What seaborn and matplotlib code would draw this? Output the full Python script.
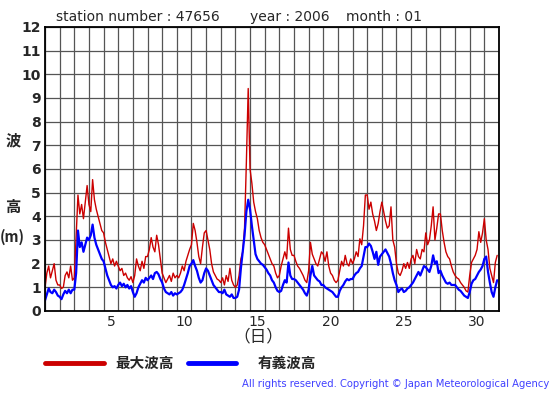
import numpy as np
import pandas as pd
import seaborn as sns
import matplotlib
matplotlib.use("Agg")
import matplotlib.pyplot as plt
from matplotlib.lines import Line2D

# 3-hourly readings (00,03,...,21h) for each day of January 2006
max_wave = [
    1.0, 1.6, 1.9, 1.4, 1.7, 2.0, 1.3, 1.1,
    1.1, 0.95, 1.0, 1.5, 1.65, 1.4, 1.9, 1.3,
    1.4, 3.2, 4.9, 4.1, 4.5, 3.9, 4.6, 5.3,
    4.5, 4.2, 5.55, 4.7, 4.3, 4.0, 3.7, 3.4,
    3.3, 2.9, 2.6, 2.3, 2.0, 2.2, 1.9, 2.1,
    1.9, 1.7, 1.8, 1.5, 1.6, 1.4, 1.3, 1.45,
    1.2, 1.5, 2.2, 1.9, 1.7, 2.1, 1.8, 2.3,
    2.3, 2.6, 3.1, 2.7, 2.5, 3.2, 2.8, 2.2,
    1.6, 1.4, 1.2, 1.35, 1.5, 1.25, 1.6, 1.4,
    1.5, 1.4, 1.6, 1.9, 1.7, 2.1, 2.35, 2.6,
    2.8, 3.7, 3.4, 2.9, 2.3, 2.0, 2.7, 3.3,
    3.4, 3.0, 2.6, 2.0, 1.65, 1.5, 1.35, 1.3,
    1.2, 1.4, 1.1, 1.5, 1.25, 1.8, 1.3, 1.1,
    1.0, 1.1, 1.5, 2.2, 2.5, 3.5, 6.3, 9.4,
    6.0, 5.4, 4.6, 4.2, 3.9, 3.4, 3.1, 2.9,
    2.8, 2.6, 2.4, 2.2, 2.0, 1.9, 1.6, 1.4,
    1.5, 1.9, 2.2, 2.5, 2.2, 3.5, 2.6, 2.35,
    2.35, 2.1, 1.9, 1.8, 1.65, 1.5, 1.3, 1.2,
    1.7, 2.9, 2.4, 2.2, 2.0, 1.9, 2.2, 2.5,
    2.4, 2.1, 2.5, 1.9, 1.6, 1.5, 1.3, 1.2,
    1.3, 1.7, 2.1, 1.9, 2.35, 2.0, 1.9, 2.2,
    2.0, 2.2, 2.5, 2.3, 3.05, 2.8, 3.6, 4.9,
    4.9, 4.3, 4.6, 4.1, 3.8, 3.4, 3.7, 4.2,
    4.6, 4.2, 3.8, 3.5, 3.6, 4.4, 3.0, 2.7,
    2.0, 1.6, 1.5, 1.7, 2.0, 1.8, 2.05, 1.8,
    2.2, 2.35, 2.0, 2.6, 2.3, 2.2, 2.6, 2.5,
    3.3, 2.8, 3.0, 3.6, 4.4, 3.0, 3.5, 4.1,
    4.1, 3.4, 2.9, 2.5, 2.3, 2.2, 1.9, 1.65,
    1.5, 1.4, 1.35, 1.2, 1.1, 1.0, 0.85, 0.8,
    1.5, 2.05, 2.2, 2.35, 2.6, 3.35, 2.9, 3.3,
    3.9, 3.0, 2.6, 1.8, 1.5, 1.2, 2.05, 2.35,
]
sig_wave = [
    0.45, 0.7, 0.95, 0.8, 0.75, 0.9, 0.8, 0.65,
    0.6, 0.5, 0.7, 0.85, 0.75, 0.9, 0.75, 0.9,
    0.9, 1.6, 3.4, 2.7, 2.9, 2.5, 2.8, 3.1,
    3.0, 3.2, 3.65, 3.1, 2.8, 2.6, 2.4, 2.2,
    2.1, 1.8, 1.5, 1.3, 1.1, 1.0, 1.05, 0.95,
    1.1, 1.2, 1.05, 1.15, 1.0, 1.1, 0.95, 1.05,
    0.8, 0.6, 0.75, 1.0, 1.15, 1.3, 1.2, 1.4,
    1.3, 1.4, 1.5, 1.35, 1.6, 1.65, 1.55, 1.35,
    1.2, 0.95, 0.8, 0.75, 0.7, 0.8, 0.65, 0.75,
    0.7, 0.75, 0.8, 0.9, 1.1, 1.35, 1.6, 1.9,
    2.0, 2.15, 1.9, 1.7, 1.4, 1.2, 1.3, 1.6,
    1.8, 1.7, 1.5, 1.3, 1.1, 1.0, 0.9, 0.8,
    0.8, 0.75, 0.9, 0.7, 0.65, 0.6, 0.7, 0.55,
    0.55, 0.6, 0.9, 1.8, 2.5, 3.2, 4.2, 4.7,
    4.3, 3.6, 3.0, 2.4, 2.2, 2.1, 2.0, 1.95,
    1.85, 1.75, 1.6, 1.5, 1.3, 1.2, 1.0, 0.85,
    0.8, 0.85, 1.1, 1.3, 1.2, 2.05, 1.5, 1.35,
    1.35, 1.3, 1.2, 1.1, 1.0, 0.9, 0.75, 0.65,
    0.9, 1.5, 1.9, 1.5, 1.4, 1.3, 1.25, 1.1,
    1.1, 1.0, 0.95, 0.9, 0.85, 0.8, 0.7, 0.6,
    0.6, 0.85, 1.0, 1.1, 1.25, 1.35, 1.3, 1.35,
    1.35, 1.5, 1.6, 1.65, 1.8, 1.9, 2.3, 2.7,
    2.7, 2.85, 2.75, 2.5, 2.2, 2.5, 1.95, 2.3,
    2.4, 2.5, 2.6, 2.45, 2.3, 2.0, 1.6, 1.3,
    1.1, 0.8, 0.9, 0.95, 0.8, 0.85, 0.95, 1.0,
    1.1, 1.2, 1.35, 1.5, 1.65, 1.5, 1.7, 1.9,
    1.85, 1.75, 1.65, 1.9, 2.35, 2.0, 2.1, 1.6,
    1.7, 1.5, 1.35, 1.2, 1.15, 1.2, 1.1, 1.1,
    1.1, 1.0, 0.9, 0.85, 0.75, 0.65, 0.6, 0.55,
    0.8, 1.15, 1.3, 1.35, 1.5, 1.65, 1.75, 1.9,
    2.2, 2.3, 1.65, 1.2, 0.8, 0.6, 1.0, 1.3,
]
day_labels = ["5", "10", "15", "20", "25", "30"]
day_label_pos = [5.5, 10.5, 15.5, 20.5, 25.5, 30.5]

hours = np.arange(0, 31 * 24, 3)
df = pd.DataFrame({
    "day": 1 + hours / 24,
    "max_wave": max_wave,
    "sig_wave": sig_wave,
})

sns.set_style("white")
plt.rcParams["font.family"] = ["DejaVu Sans", "Noto Sans CJK JP"]
jp = ["Noto Sans CJK JP", "DejaVu Sans"]

fig = plt.figure(figsize=(5.55, 3.95), dpi=100)
ax = fig.add_axes([0.0811, 0.2127, 0.8180, 0.7190])

sns.lineplot(data=df, x="day", y="max_wave", color="#cc0000", linewidth=1.0, ax=ax)
sns.lineplot(data=df, x="day", y="sig_wave", color="#0000ff", linewidth=1.6, ax=ax)

ax.set_xlim(1, 32)
ax.set_ylim(0, 12)
ax.set_xticks(np.arange(1, 33))
ax.set_xticklabels([])
ax.set_xticks(day_label_pos, minor=True)
ax.set_xticklabels(day_labels, minor=True, fontsize=10)
ax.set_yticks(np.arange(0, 13))
ax.set_yticklabels([str(v) for v in range(13)], fontsize=10, fontweight="bold")
ax.tick_params(axis="both", which="both", length=0)
ax.tick_params(axis="y", pad=3)
ax.tick_params(axis="x", which="minor", pad=3)
ax.grid(True, which="major", color="#555555", linewidth=0.9)
ax.set_axisbelow(True)
for s in ax.spines.values():
    s.set_color("black")
    s.set_linewidth(1.3)
ax.set_xlabel("")
ax.set_ylabel("")

fig.text(56 / 555, 1 - 17 / 395, "station number : 47656", fontsize=10, va="center")
fig.text(250 / 555, 1 - 17 / 395, "year : 2006", fontsize=10, va="center")
fig.text(346 / 555, 1 - 17 / 395, "month : 01", fontsize=10, va="center")

fig.text(13 / 555, 1 - 140 / 395, "波", family=jp, fontsize=11, fontweight="bold", ha="center", va="center")
fig.text(13 / 555, 1 - 207 / 395, "高", family=jp, fontsize=11, fontweight="bold", ha="center", va="center")
fig.text(12 / 555, 1 - 237 / 395, "(m)", family=jp, fontsize=10.5, fontweight="bold", ha="center", va="center")
fig.text(258 / 555, 1 - 337 / 395, "（日）", family=jp, fontsize=12, ha="center", va="center")

ly = 1 - 363 / 395
fig.add_artist(Line2D([45 / 555, 104 / 555], [ly, ly], color="#cc0000", linewidth=3.5))
fig.text(115 / 555, ly, "最大波高", family=jp, fontsize=10.5, fontweight="bold", va="center")
fig.add_artist(Line2D([188 / 555, 236 / 555], [ly, ly], color="#0000ff", linewidth=3.5))
fig.text(258 / 555, ly, "有義波高", family=jp, fontsize=10.5, fontweight="bold", va="center")

fig.text(549 / 555, 1 - 384 / 395,
         "All rights reserved. Copyright © Japan Meteorological Agency",
         fontsize=7.2, color="#4040ff", ha="right", va="center")

fig.savefig("out.png", dpi=100)
